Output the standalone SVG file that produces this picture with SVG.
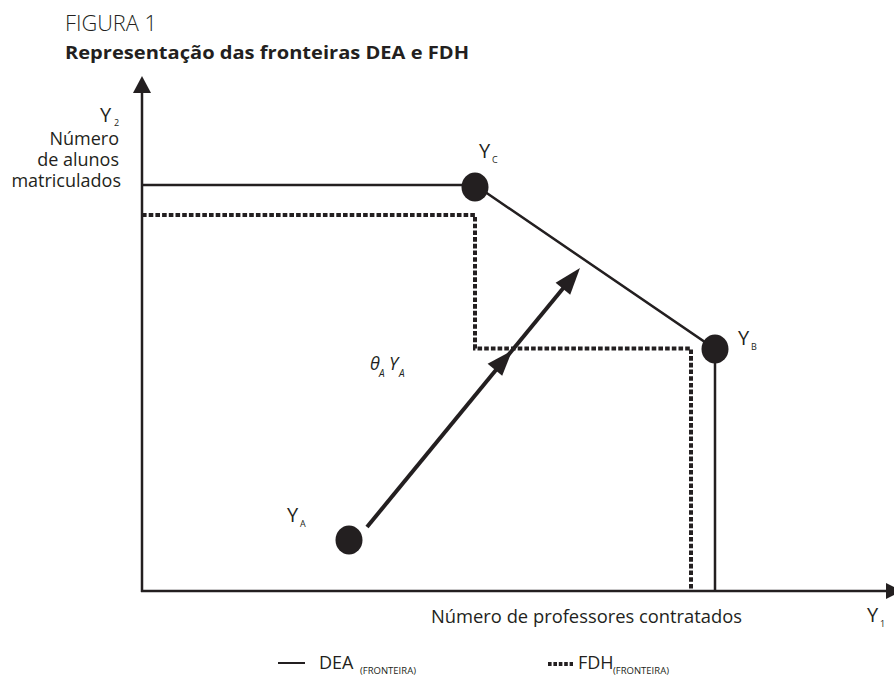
<svg xmlns="http://www.w3.org/2000/svg" width="894" height="678" viewBox="0 0 894 678">
<style>
text{font-family:"Open Sans","Noto Sans","Liberation Sans",sans-serif;fill:#231f20}
.lbl{font-size:18px}
.y{font-size:20px}
.sub{font-size:9px}
.solid{fill:none;stroke:#231f20;stroke-width:2.5}
.dash{fill:none;stroke:#231f20;stroke-width:4;stroke-dasharray:4.6 2.1}
.dot{fill:#231f20}
.it{font-style:italic}
</style>
<rect width="894" height="678" fill="#fff"/>
<g id="title">
<text x="65" y="31" style="font-size:22px;font-weight:300" textLength="92" lengthAdjust="spacingAndGlyphs">FIGURA 1</text>
<text x="65" y="59" style="font-size:18px;font-weight:700" textLength="404" lengthAdjust="spacingAndGlyphs">Representação das fronteiras DEA e FDH</text>
</g>
<g id="axes">
<line class="solid" x1="142" y1="92" x2="142" y2="592"/>
<polygon class="dot" points="142,76 133,93 151,93"/>
<line class="solid" x1="141" y1="591" x2="887" y2="591"/>
<polygon class="dot" points="886,583 902,591 886,599"/>
<text class="y" x="100" y="122">Y</text><text class="sub" x="114" y="126">2</text>
<text class="lbl" text-anchor="end" x="119" y="145">Número</text>
<text class="lbl" text-anchor="end" x="119" y="166">de alunos</text>
<text class="lbl" text-anchor="end" x="121" y="187">matriculados</text>
<text class="lbl" x="431" y="623" textLength="311" lengthAdjust="spacingAndGlyphs">Número de professores contratados</text>
<text class="y" x="867" y="622">Y</text><text class="sub" x="880" y="627">1</text>
</g>
<g id="connectors">
<path id="dea-frontier" class="solid" d="M142,185 H475 L715,349 V591"/>
<path id="fdh-frontier" class="dash" d="M142,215 H475 V348.5 H691 V591"/>
<g id="projection">
<line x1="367" y1="527" x2="565" y2="286" stroke="#231f20" stroke-width="4"/>
<polygon class="dot" points="512.1,350.6 502.2,375.8 487.6,363.8"/>
<polygon class="dot" points="580,268 570.2,294.8 555.6,282.8"/>
</g>
</g>
<g id="node-YC">
<ellipse class="dot" cx="475" cy="187" rx="13.5" ry="14.5"/>
<text class="y" x="479" y="158">Y</text><text class="sub" x="492" y="163">C</text>
</g>
<g id="node-YB">
<ellipse class="dot" cx="715" cy="349" rx="13.5" ry="14.5"/>
<text class="y" x="738" y="345">Y</text><text class="sub" x="751" y="350">B</text>
</g>
<g id="node-YA">
<ellipse class="dot" cx="349" cy="540" rx="13.5" ry="14.5"/>
<text class="y" x="287" y="522">Y</text><text class="sub" x="300" y="527">A</text>
</g>
<g id="label-theta">
<text class="it" x="370" y="370" style="font-size:18px">θ</text>
<text class="it" x="379" y="377" style="font-size:10px">A</text>
<text class="it" x="389" y="370" style="font-size:18px">Y</text>
<text class="it" x="399" y="377" style="font-size:10px">A</text>
</g>
<g id="legend">
<line x1="278" y1="663" x2="305" y2="663" stroke="#231f20" stroke-width="2"/>
<text class="lbl" x="319" y="669">DEA</text>
<text x="360" y="674" style="font-size:9.5px">(FRONTEIRA)</text>
<line x1="548" y1="664" x2="573" y2="664" stroke="#231f20" stroke-width="4" stroke-dasharray="3.6 1.8"/>
<text class="lbl" x="578" y="669">FDH</text>
<text x="613" y="674" style="font-size:9.5px">(FRONTEIRA)</text>
</g>
</svg>
